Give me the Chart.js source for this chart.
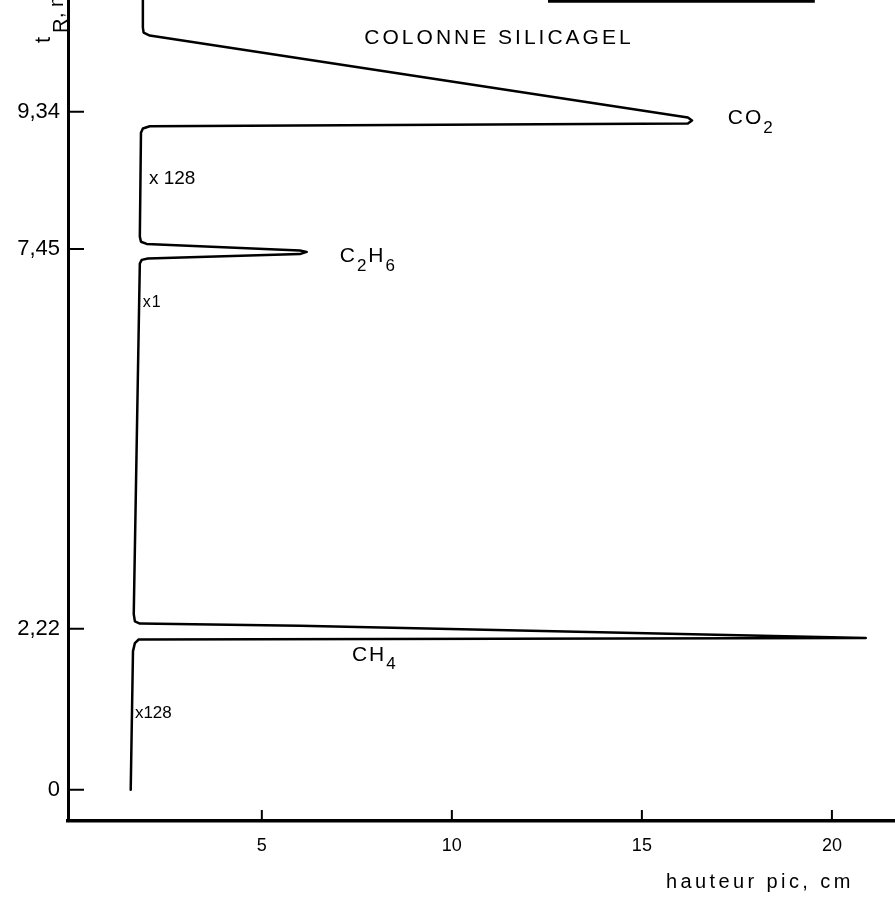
<!DOCTYPE html>
<html>
<head>
<meta charset="utf-8">
<script src="https://cdn.jsdelivr.net/npm/chart.js@4.4.1/dist/chart.umd.min.js"></script>
<style>
  html, body { margin: 0; padding: 0; background: #fff; }
  #wrap { position: relative; width: 895px; height: 899px; }
</style>
</head>
<body>
<div id="wrap"><canvas id="chromChart"></canvas></div>
<script>
// Chromatogramme - colonne silicagel
// x : hauteur de pic (cm), y : temps de rétention (min)
const traceHeight = [1.55, 1.61, 1.66, 1.76, 20.89, 6.00, 1.79, 1.66, 1.63,
    1.79, 1.84, 2.00, 6.00, 6.18, 6.00, 1.97, 1.82, 1.79,
    1.82, 1.87, 2.05, 16.21, 16.32, 16.21, 2.05, 1.89, 1.87, 1.87];
const traceTime = [0, 1.91, 2.02, 2.07, 2.09, 2.26, 2.29, 2.32, 2.42,
    7.25, 7.30, 7.32, 7.38, 7.41, 7.43, 7.52, 7.55, 7.62,
    9.05, 9.11, 9.14, 9.18, 9.22, 9.26, 10.39, 10.43, 10.50, 11.2];

// trait en haut de la figure (coupé)
const topLineHeight = [12.53, 19.55];
const topLineTime = [10.87, 10.87];

const timeTicks = [0, 2.22, 7.45, 9.34];
const heightTicks = [5, 10, 15, 20];

// annotations (le "_" met le chiffre suivant en indice)
const noteText = ['COLONNE SILICAGEL', 'CO_2', 'C_2H_6', 'CH_4', 'x 128', 'x1', 'x128'];
const noteHeight = [11.24, 17.26, 7.05, 7.37, 2.03, 1.87, 1.66];
const noteTime = [10.28, 9.17, 7.27, 1.78, 8.34, 6.65, 0.99];

const FONT = '"Liberation Sans", Arial, sans-serif';
const noteStyle = [
    { size: 21, spacing: 3, align: 'center' },
    { size: 21, spacing: 2, align: 'left' },
    { size: 21, spacing: 2, align: 'left' },
    { size: 21, spacing: 2, align: 'left' },
    { size: 19, spacing: 0, align: 'left' },
    { size: 16, spacing: 1, align: 'left' },
    { size: 17, spacing: 0, align: 'left' }
];

function toComma(v) {
    return String(v).replace('.', ',');
}

function richWidth(ctx, str, size, spacing) {
    let w = 0;
    str.split(/(_\d)/).filter(Boolean).forEach(p => {
        const sub = p[0] === '_';
        const txt = sub ? p.slice(1) : p;
        ctx.font = (sub ? Math.round(size * 0.8) : size) + 'px ' + FONT;
        ctx.letterSpacing = spacing + 'px';
        w += ctx.measureText(txt).width;
    });
    return w;
}

function drawRich(ctx, str, x, y, size, spacing) {
    let cx = x;
    str.split(/(_\d)/).filter(Boolean).forEach(p => {
        const sub = p[0] === '_';
        const txt = sub ? p.slice(1) : p;
        ctx.font = (sub ? Math.round(size * 0.8) : size) + 'px ' + FONT;
        ctx.letterSpacing = spacing + 'px';
        ctx.fillText(txt, cx, y + (sub ? size * 0.42 : 0));
        cx += ctx.measureText(txt).width;
    });
}

const inkPlugin = {
    id: 'ink',
    afterDraw(chart) {
        const ctx = chart.ctx;
        const xs = chart.scales.x;
        const ys = chart.scales.y;
        const area = chart.chartArea;
        ctx.save();
        ctx.strokeStyle = '#000';
        ctx.fillStyle = '#000';
        ctx.lineWidth = 2;

        // graduations vers l'intérieur
        ctx.beginPath();
        timeTicks.forEach(t => {
            const py = ys.getPixelForValue(t);
            ctx.moveTo(area.left, py);
            ctx.lineTo(area.left + 16, py);
        });
        heightTicks.forEach(h => {
            const px = xs.getPixelForValue(h);
            ctx.moveTo(px, area.bottom);
            ctx.lineTo(px, area.bottom - 11);
        });
        ctx.stroke();

        // annotations
        ctx.textBaseline = 'alphabetic';
        ctx.textAlign = 'left';
        noteText.forEach((txt, i) => {
            const st = noteStyle[i];
            let px = xs.getPixelForValue(noteHeight[i]);
            const py = ys.getPixelForValue(noteTime[i]);
            if (st.align === 'center') px -= richWidth(ctx, txt, st.size, st.spacing) / 2;
            drawRich(ctx, txt, px, py, st.size, st.spacing);
        });

        // titre axe x
        ctx.font = '20px ' + FONT;
        ctx.letterSpacing = '3.4px';
        ctx.fillText('hauteur pic, cm', 666, 888);

        // titre axe y : t_R, min (vertical, coupé en haut)
        ctx.letterSpacing = '0px';
        ctx.translate(0, 43);
        ctx.rotate(-Math.PI / 2);
        ctx.font = '22px ' + FONT;
        ctx.fillText('t', 0, 50);
        ctx.font = '20px ' + FONT;
        ctx.fillText('R', 10, 67);
        ctx.fillText(', min', 25, 63);
        ctx.restore();
    }
};

const chart = new Chart(document.getElementById('chromChart'), {
    type: 'scatter',
    data: {
        datasets: [{
            label: 'signal',
            data: traceHeight.map((x, i) => ({ x: x, y: traceTime[i] })),
            showLine: true,
            borderColor: '#000',
            borderWidth: 2.5,
            borderJoinStyle: 'round',
            borderCapStyle: 'round',
            pointRadius: 0,
            tension: 0
        }, {
            label: 'cadre',
            data: topLineHeight.map((x, i) => ({ x: x, y: topLineTime[i] })),
            showLine: true,
            borderColor: '#000',
            borderWidth: 4,
            pointRadius: 0
        }]
    },
    options: {
        responsive: true,
        maintainAspectRatio: false,
        animation: false,
        layout: { padding: 0 },
        plugins: {
            legend: { display: false },
            tooltip: { enabled: false }
        },
        scales: {
            x: {
                type: 'linear',
                min: -0.1,
                max: 21.66,
                grid: { display: false, drawTicks: false },
                border: { display: true, color: '#000', width: 3.5 },
                afterBuildTicks: s => { s.ticks = heightTicks.map(v => ({ value: v })); },
                afterFit: s => {
                    s.height = 78;
                    s.paddingLeft = 0; s.paddingRight = 0;
                },
                ticks: {
                    color: '#000',
                    padding: 14,
                    maxRotation: 0,
                    autoSkip: false,
                    font: { family: FONT, size: 18 },
                    callback: v => toComma(v)
                }
            },
            y: {
                type: 'linear',
                min: -0.43,
                max: 10.88,
                grid: { display: false, drawTicks: false },
                border: { display: true, color: '#000', width: 3 },
                afterBuildTicks: s => { s.ticks = timeTicks.map(v => ({ value: v })); },
                afterFit: s => {
                    s.width = 68;
                    s.paddingTop = 0; s.paddingBottom = 0;
                },
                ticks: {
                    color: '#000',
                    padding: 8,
                    autoSkip: false,
                    font: { family: FONT, size: 22 },
                    callback: v => toComma(v)
                }
            }
        }
    },
    plugins: [inkPlugin]
});
</script>
</body>
</html>
